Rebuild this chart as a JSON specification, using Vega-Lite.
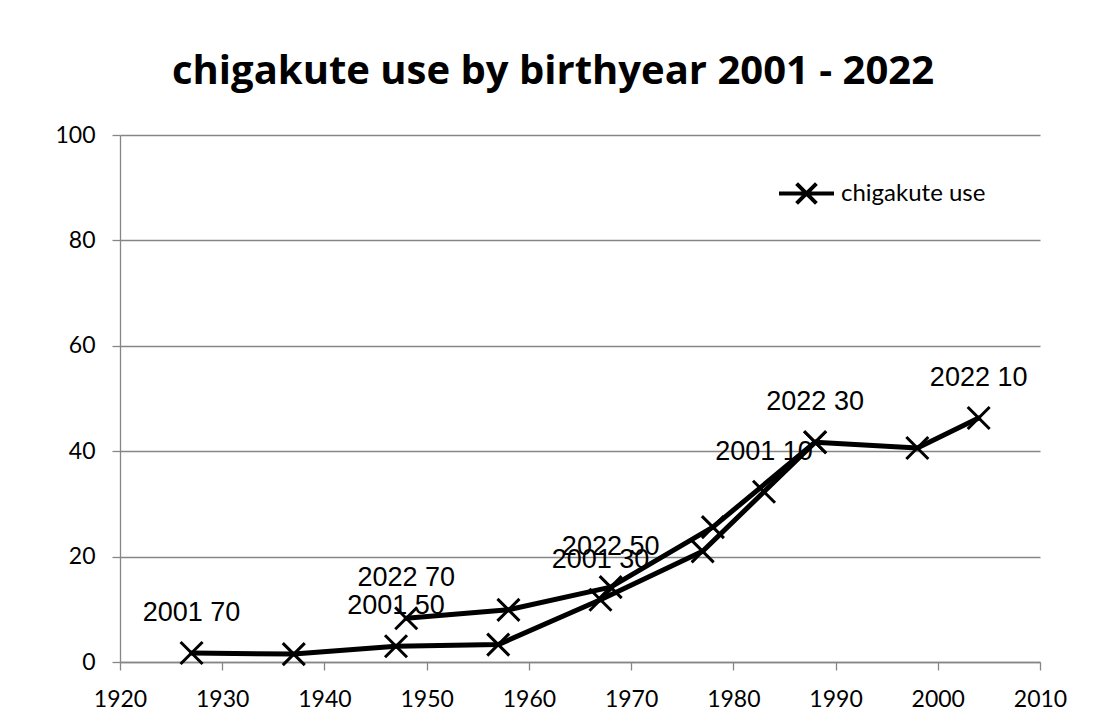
{
  "$schema": "https://vega.github.io/schema/vega-lite/v6.json",
  "width": 920,
  "height": 527,
  "autosize": {"type": "none"},
  "padding": {"left": 120, "top": 135, "right": 54, "bottom": 51},
  "background": "white",
  "title": {
    "text": "chigakute use by birthyear 2001 - 2022",
    "font": "Open Sans",
    "fontSize": 40,
    "fontWeight": "bold",
    "color": "black",
    "anchor": "middle",
    "frame": "group",
    "dx": -27,
    "baseline": "alphabetic",
    "offset": 0
  },
  "config": {
    "view": {"stroke": null},
    "axis": {
      "labelFont": "Lato",
      "labelFontSize": 23,
      "labelColor": "black",
      "gridColor": "#868686",
      "gridWidth": 1.3,
      "domainColor": "#868686",
      "domainWidth": 1.3,
      "tickColor": "#868686",
      "tickWidth": 1.3,
      "tickSize": 8,
      "title": null
    }
  },
  "data": {
    "values": [
      {"birthyear": 1927, "use": 1.7, "wave": "2001", "series": "chigakute use", "label": "2001 70"},
      {"birthyear": 1937, "use": 1.5, "wave": "2001", "series": "chigakute use", "label": ""},
      {"birthyear": 1947, "use": 3.0, "wave": "2001", "series": "chigakute use", "label": "2001 50"},
      {"birthyear": 1957, "use": 3.3, "wave": "2001", "series": "chigakute use", "label": ""},
      {"birthyear": 1967, "use": 11.8, "wave": "2001", "series": "chigakute use", "label": "2001 30"},
      {"birthyear": 1977, "use": 21.0, "wave": "2001", "series": "chigakute use", "label": ""},
      {"birthyear": 1983, "use": 32.3, "wave": "2001", "series": "chigakute use", "label": "2001 10"},
      {"birthyear": 1988, "use": 41.7, "wave": "2001", "series": "chigakute use", "label": ""},
      {"birthyear": 1948, "use": 8.3, "wave": "2022", "series": "chigakute use", "label": "2022 70"},
      {"birthyear": 1958, "use": 9.9, "wave": "2022", "series": "chigakute use", "label": ""},
      {"birthyear": 1968, "use": 14.2, "wave": "2022", "series": "chigakute use", "label": "2022 50"},
      {"birthyear": 1978, "use": 25.6, "wave": "2022", "series": "chigakute use", "label": ""},
      {"birthyear": 1988, "use": 41.7, "wave": "2022", "series": "chigakute use", "label": "2022 30"},
      {"birthyear": 1998, "use": 40.6, "wave": "2022", "series": "chigakute use", "label": ""},
      {"birthyear": 2004, "use": 46.3, "wave": "2022", "series": "chigakute use", "label": "2022 10"}
    ]
  },
  "encoding": {
    "x": {
      "field": "birthyear",
      "type": "quantitative",
      "scale": {"domain": [1920, 2010], "nice": false, "zero": false},
      "axis": {"values": [1920, 1930, 1940, 1950, 1960, 1970, 1980, 1990, 2000, 2010], "format": "d", "grid": false, "labelPadding": 18, "labelFlush": false}
    },
    "y": {
      "field": "use",
      "type": "quantitative",
      "scale": {"domain": [0, 100], "nice": false},
      "axis": {"values": [0, 20, 40, 60, 80, 100], "grid": true, "labelPadding": 17}
    }
  },
  "layer": [
    {
      "mark": {"type": "line", "strokeWidth": 5, "strokeJoin": "round", "strokeCap": "round"},
      "encoding": {
        "detail": {"field": "wave"},
        "order": {"field": "birthyear"},
        "color": {
          "field": "series",
          "type": "nominal",
          "scale": {"range": ["black"]},
          "legend": {
            "title": null,
            "orient": "none",
            "legendX": 657,
            "legendY": 29,
            "padding": 0,
            "symbolType": "M-1,0L1,0M-0.36,-0.36L0.36,0.36M-0.36,0.36L0.36,-0.36",
            "symbolSize": 3025,
            "symbolStrokeWidth": 4,
            "symbolStrokeColor": "black",
            "symbolFillColor": "transparent",
            "labelFont": "Lato",
            "labelFontSize": 24,
            "labelColor": "black",
            "labelOffset": 5
          }
        }
      }
    },
    {
      "mark": {"type": "point", "shape": "M-1,-1L1,1M-1,1L1,-1", "filled": false, "size": 484, "strokeWidth": 3, "color": "black", "opacity": 1}
    },
    {
      "mark": {"type": "text", "font": "Liberation Sans", "fontSize": 27, "color": "black", "baseline": "alphabetic", "align": "center", "dy": -32},
      "encoding": {"text": {"field": "label"}}
    }
  ]
}
